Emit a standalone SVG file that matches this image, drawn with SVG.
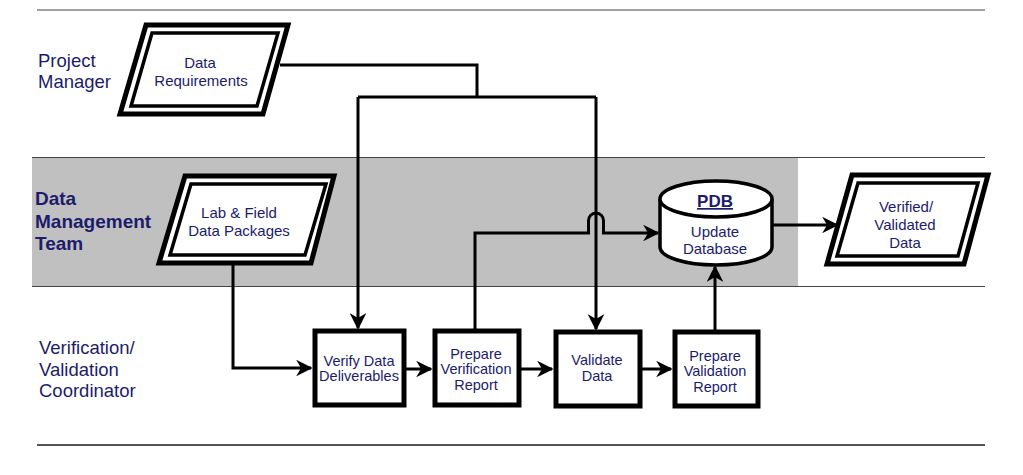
<svg xmlns="http://www.w3.org/2000/svg" width="1023" height="475" viewBox="0 0 1023 475">
<style>
  .lane { font-family: "Liberation Sans", Arial, sans-serif; font-size: 18.5px; fill: #1c1c6b; }
  .laneb { font-family: "Liberation Sans", Arial, sans-serif; font-size: 19px; font-weight: bold; fill: #1c1c6b; }
  .t { font-family: "Liberation Sans", Arial, sans-serif; font-size: 14.5px; fill: #1c1c6b; text-anchor: middle; }
  .t15 { font-family: "Liberation Sans", Arial, sans-serif; font-size: 15px; fill: #1c1c6b; text-anchor: middle; }
  .pdb { font-family: "Liberation Sans", Arial, sans-serif; font-size: 17px; font-weight: bold; fill: #1c1c6b; text-anchor: middle; text-decoration: underline; }
  .outer { fill: #fff; stroke: #000; stroke-width: 5; stroke-linejoin: miter; }
  .inner { fill: #fff; stroke: #000; stroke-width: 3.5; stroke-linejoin: miter; }
  .box { fill: #fff; stroke: #000; stroke-width: 5; }
  .conn { fill: none; stroke: #000; stroke-width: 3; }
  .sep { stroke: #444; stroke-width: 1.2; }
</style>
<defs>
  <marker id="arr" viewBox="0 0 10 10" refX="9" refY="5" markerWidth="5.5" markerHeight="5.5" orient="auto" markerUnits="strokeWidth">
    <path d="M0,0 L10,5 L0,10 L3,5 z" fill="#000"/>
  </marker>
</defs>
<rect width="1023" height="475" fill="#fff"/>
<!-- lanes -->
<g id="lanes">
  <rect x="32" y="157" width="766" height="130" fill="#c0c0c0"/>
  <line class="sep" x1="37" y1="10" x2="985" y2="10"/>
  <line class="sep" x1="32" y1="157.5" x2="985" y2="157.5"/>
  <line class="sep" x1="32" y1="286.5" x2="985" y2="286.5"/>
  <line x1="37" y1="445" x2="985" y2="445" stroke="#555" stroke-width="2"/>
  <text class="lane" x="38" y="67">Project</text>
  <text class="lane" x="38" y="88">Manager</text>
  <text class="laneb" x="35" y="205">Data</text>
  <text class="laneb" x="35" y="228">Management</text>
  <text class="laneb" x="35" y="250">Team</text>
  <text class="lane" x="39" y="354">Verification/</text>
  <text class="lane" x="39" y="376">Validation</text>
  <text class="lane" x="39" y="397">Coordinator</text>
</g>
<!-- connectors -->
<g id="connectors">
  <path class="conn" d="M280,65 L477,65 L477,97"/>
  <path class="conn" d="M358,97 L596,97"/>
  <path class="conn" d="M358,97 L358,328" marker-end="url(#arr)"/>
  <path class="conn" d="M596,97 L596,329" marker-end="url(#arr)"/>
  <path class="conn" d="M233,264 L233,368 L311,368" marker-end="url(#arr)"/>
  <path class="conn" d="M405,369 L431,369" marker-end="url(#arr)"/>
  <path class="conn" d="M520,369 L552,369" marker-end="url(#arr)"/>
  <path class="conn" d="M641,369 L671,369" marker-end="url(#arr)"/>
  <path class="conn" d="M475,330 L475,233 L588.5,233 L588.5,220.5 A7.5,7.5 0 0 1 603.5,220.5 L603.5,233 L658,233" marker-end="url(#arr)"/>
  <path class="conn" d="M715,331 L715,267" marker-end="url(#arr)"/>
  <path class="conn" d="M772,225 L837,225" marker-end="url(#arr)"/>
</g>
<!-- nodes -->
<g id="data-requirements">
  <polygon class="outer" points="146,25 288,25 263,114 120,114"/>
  <polygon class="inner" points="152,33 278,33 257,106 131,106"/>
  <text class="t15" x="200" y="68">Data</text>
  <text class="t15" x="201" y="86">Requirements</text>
</g>
<g id="lab-field">
  <polygon class="outer" points="185,176 334,176 311,263 159,263"/>
  <polygon class="inner" points="191,184 326,184 305,255 170,255"/>
  <text class="t15" x="239" y="218">Lab &amp; Field</text>
  <text class="t15" x="239" y="236">Data Packages</text>
</g>
<g id="verified-data">
  <polygon class="outer" points="852,175 988,175 964,264 827,264"/>
  <polygon class="inner" points="858,183 978,183 958,256 837,256"/>
  <text class="t15" x="906" y="212">Verified/</text>
  <text class="t15" x="905" y="230">Validated</text>
  <text class="t15" x="905" y="248">Data</text>
</g>
<g id="pdb">
  <path d="M660,199 L660,247 A56,18 0 0 0 772,247 L772,199" fill="#fff" stroke="#000" stroke-width="3.5"/>
  <ellipse cx="716" cy="199" rx="56" ry="18" fill="#fff" stroke="#000" stroke-width="3.5"/>
  <text class="pdb" x="715" y="207">PDB</text>
  <text class="t15" x="715" y="237">Update</text>
  <text class="t15" x="715" y="254">Database</text>
</g>
<g id="verify-deliverables">
  <rect class="box" x="315" y="331" width="89" height="74"/>
  <text class="t" x="359" y="366">Verify Data</text>
  <text class="t" x="359" y="381">Deliverables</text>
</g>
<g id="prepare-verification">
  <rect class="box" x="435" y="331" width="84" height="74"/>
  <text class="t" x="476" y="359">Prepare</text>
  <text class="t" x="476" y="374">Verification</text>
  <text class="t" x="476" y="390">Report</text>
</g>
<g id="validate-data">
  <rect class="box" x="556" y="332" width="84" height="74"/>
  <text class="t" x="597" y="365">Validate</text>
  <text class="t" x="597" y="381">Data</text>
</g>
<g id="prepare-validation">
  <rect class="box" x="675" y="332" width="83" height="74"/>
  <text class="t" x="715" y="361">Prepare</text>
  <text class="t" x="715" y="376">Validation</text>
  <text class="t" x="715" y="392">Report</text>
</g>
</svg>
